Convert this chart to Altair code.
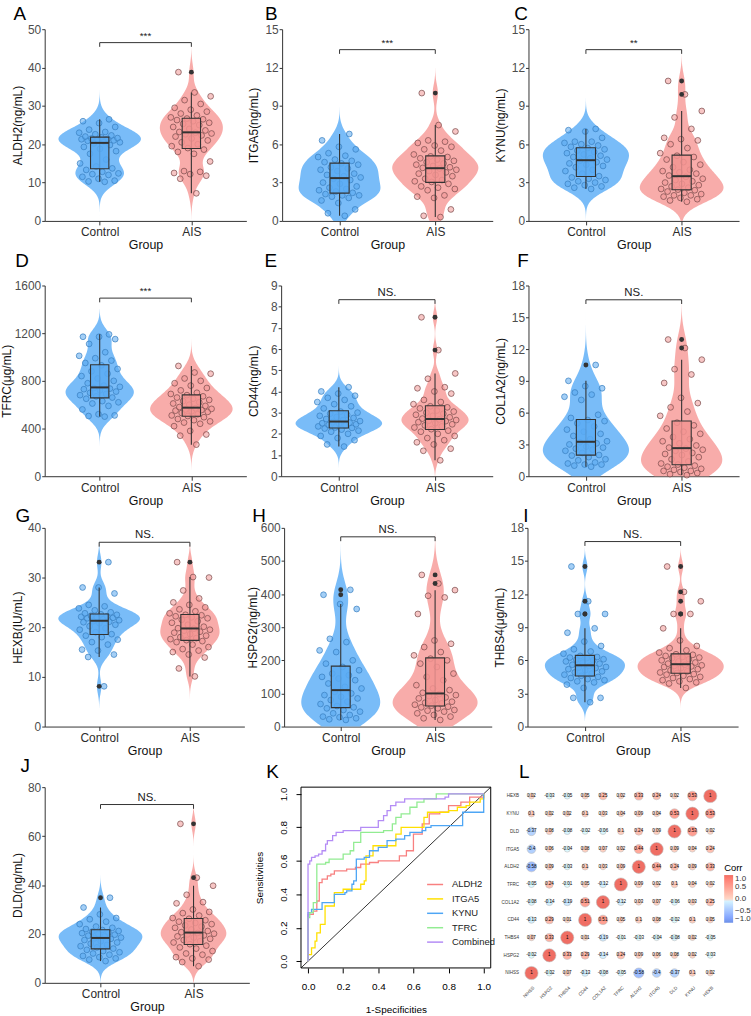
import altair as alt
import numpy as np
import pandas as pd

FONT = "Liberation Sans"
GROUPS = ["Control", "AIS"]

# ---------------- violin/box panels: values ----------------
ALDH2_CTRL = [10.2, 10.3, 10.5, 11.0, 11.5, 12.0, 12.2, 12.4, 12.8, 13.3, 13.7, 14.2, 15.0, 16.0, 17.5, 18.2, 18.8, 19.3, 19.8, 20.2,
              20.5, 20.7, 20.9, 21.0, 21.2, 21.3, 21.4, 21.5, 21.6, 21.8, 22.0, 22.3, 22.6, 23.0, 23.2, 23.8, 24.5, 25.5, 26.0, 26.5]
ALDH2_AIS = [7.2, 11.0, 11.8, 12.2, 12.5, 12.8, 13.0, 15.5, 17.5, 18.0, 18.6, 19.0, 19.5, 20.0, 20.5, 21.0, 21.5, 22.0, 22.3, 22.6, 22.8, 23.0,
             23.2, 23.6, 24.0, 24.5, 25.0, 25.3, 25.6, 26.0, 26.3, 26.5, 26.7, 27.0, 27.5, 28.0, 28.5, 29.0, 29.5, 30.5, 31.5, 32.5, 33.5, 38.8]
ITGA5_CTRL = [0.4, 0.6, 0.9, 1.4, 1.6, 1.8, 1.9, 2.0, 2.0, 2.1, 2.2, 2.3, 2.4, 2.5, 2.6, 2.7, 2.9, 3.0, 3.2, 3.3,
              3.4, 3.5, 3.6, 3.7, 3.9, 4.0, 4.1, 4.2, 4.4, 4.5, 4.6, 4.7, 4.8, 5.0, 5.1, 5.3, 5.6, 5.8, 6.3, 6.8]
ITGA5_AIS = [0.3, 0.4, 0.9, 1.8, 1.9, 2.0, 2.4, 2.5, 2.6, 2.7, 2.9, 3.05, 3.1, 3.2, 3.3, 3.5, 3.6, 3.7, 3.8, 3.9, 4.0, 4.1,
             4.15, 4.2, 4.3, 4.4, 4.5, 4.6, 4.7, 4.8, 4.9, 5.0, 5.05, 5.2, 5.5, 5.6, 5.8, 5.9, 6.1, 6.2, 6.3, 7.0, 7.5, 10.0]
KYNU_CTRL = [2.5, 2.6, 2.7, 2.8, 2.9, 3.0, 3.1, 3.2, 3.3, 3.4, 3.5, 3.7, 3.9, 4.0, 4.2, 4.3, 4.4, 4.5, 4.6, 4.7,
             4.8, 4.9, 5.0, 5.1, 5.2, 5.3, 5.4, 5.5, 5.6, 5.7, 5.8, 5.9, 6.0, 6.1, 6.2, 6.2, 6.5, 7.0, 7.1, 7.2]
KYNU_AIS = [1.5, 1.6, 1.7, 1.8, 1.9, 2.0, 2.0, 2.1, 2.2, 2.3, 2.4, 2.45, 2.5, 2.6, 2.7, 2.8, 2.9, 3.0, 3.1, 3.2, 3.3, 3.45,
            3.55, 3.7, 3.8, 3.9, 4.0, 4.2, 4.4, 4.6, 4.8, 5.0, 5.1, 5.3, 5.7, 6.0, 6.3, 6.4, 6.5, 7.2, 8.1, 8.6, 9.9, 10.95]
TFRC_CTRL = [500, 505, 510, 520, 560, 590, 610, 620, 630, 650, 660, 670, 680, 690, 700, 710, 720, 730, 735, 740,
             750, 760, 780, 800, 820, 840, 860, 880, 900, 930, 950, 970, 990, 1010, 1040, 1110, 1150, 1170, 1170, 1190]
TFRC_AIS = [265, 340, 350, 380, 420, 440, 450, 460, 470, 480, 495, 505, 510, 520, 530, 540, 545, 550, 555, 560, 565, 570,
            580, 590, 600, 610, 620, 630, 640, 650, 660, 670, 680, 690, 700, 720, 740, 760, 780, 800, 820, 860, 870, 925]
CD44_CTRL = [1.4, 1.5, 1.7, 1.8, 1.9, 2.0, 2.1, 2.15, 2.2, 2.25, 2.28, 2.3, 2.35, 2.4, 2.42, 2.45, 2.48, 2.5, 2.53, 2.56,
             2.6, 2.65, 2.7, 2.75, 2.8, 2.85, 2.9, 2.95, 3.0, 3.05, 3.2, 3.3, 3.4, 3.5, 3.6, 3.7, 3.8, 3.9, 4.0, 4.2]
CD44_AIS = [0.75, 1.2, 1.3, 1.5, 1.6, 1.7, 1.8, 1.9, 2.0, 2.1, 2.15, 2.22, 2.3, 2.35, 2.4, 2.45, 2.5, 2.55, 2.6, 2.62, 2.65, 2.68,
            2.72, 2.78, 2.85, 2.9, 2.95, 3.0, 3.05, 3.1, 3.2, 3.25, 3.3, 3.4, 3.5, 3.6, 3.9, 4.0, 4.15, 4.2, 4.6, 4.85, 5.95, 7.5]
COL1A2_CTRL = [0.9, 1.0, 1.1, 1.1, 1.2, 1.3, 1.5, 1.6, 1.8, 1.95, 2.0, 2.2, 2.4, 2.5, 2.6, 2.7, 2.8, 3.0, 3.1, 3.2,
               3.3, 3.5, 3.8, 4.0, 4.2, 4.4, 4.7, 5.0, 5.2, 5.3, 5.5, 5.8, 7.2, 7.5, 7.7, 7.9, 8.3, 8.5, 9.0, 10.5]
COL1A2_AIS = [0.1, 0.2, 0.3, 0.4, 0.5, 0.5, 0.6, 0.7, 0.8, 0.9, 1.0, 1.1, 1.2, 1.4, 1.6, 1.8, 2.0, 2.1, 2.2, 2.4, 2.5, 2.6,
              2.7, 2.9, 3.1, 3.3, 3.5, 3.7, 4.0, 4.2, 4.5, 4.8, 5.05, 5.7, 6.1, 6.5, 6.9, 7.4, 8.8, 9.6, 10.1, 11.0, 12.1, 12.9]
HEXB_CTRL = [8.1, 14.0, 14.5, 15.3, 15.5, 16.5, 17.0, 17.5, 18.0, 18.3, 18.6, 19.0, 19.5, 19.8, 20.2, 20.5, 20.8, 21.0, 21.1, 21.2,
             21.4, 21.6, 21.8, 21.9, 22.0, 22.1, 22.2, 22.3, 22.5, 22.6, 22.8, 23.0, 23.4, 23.8, 24.2, 24.5, 26.8, 28.0, 28.0, 33.1]
HEXB_AIS = [10.1, 11.7, 13.9, 14.5, 15.0, 15.3, 15.6, 16.0, 16.5, 17.0, 17.2, 17.4, 17.6, 17.8, 18.0, 18.3, 18.6, 18.9, 19.1, 19.3, 19.5, 19.7,
            19.8, 20.1, 20.5, 20.9, 21.2, 21.5, 21.8, 22.0, 22.2, 22.4, 22.5, 22.8, 23.2, 23.6, 24.0, 24.5, 25.0, 25.8, 27.4, 30.0, 30.1, 33.1]
HSPG2_CTRL = [20, 22, 25, 28, 30, 35, 40, 45, 50, 55, 58, 62, 68, 75, 80, 85, 90, 95, 100, 105,
              115, 120, 130, 140, 145, 150, 155, 160, 170, 180, 190, 200, 225, 230, 255, 265, 355, 370, 398, 413]
HSPG2_AIS = [20, 25, 30, 35, 40, 45, 48, 50, 55, 58, 60, 63, 66, 70, 72, 75, 80, 85, 88, 92, 95, 98,
             102, 110, 115, 125, 140, 150, 160, 180, 190, 200, 205, 215, 225, 240, 250, 260, 340, 390, 395, 412, 432, 458]
THBS4_CTRL = [2.2, 2.6, 2.6, 3.5, 3.8, 4.0, 4.1, 4.2, 4.3, 4.4, 4.5, 4.6, 4.7, 4.8, 4.9, 5.0, 5.1, 5.2, 5.3, 5.35, 5.4, 5.5,
              5.6, 5.7, 5.8, 5.9, 6.0, 6.05, 6.1, 6.2, 6.25, 6.3, 6.4, 6.6, 6.8, 7.0, 7.3, 7.7, 8.5, 8.9, 10.2, 10.2, 11.35, 14.5]
THBS4_AIS = [3.5, 3.9, 4.0, 4.1, 4.2, 4.3, 4.4, 4.5, 4.6, 4.7, 4.75, 4.85, 4.9, 5.0, 5.1, 5.2, 5.3, 5.4, 5.45, 5.5, 5.55, 5.6,
             5.7, 5.8, 5.9, 6.0, 6.1, 6.2, 6.25, 6.3, 6.4, 6.5, 6.55, 6.7, 6.9, 7.1, 7.3, 7.8, 8.9, 10.2, 10.2, 11.35, 12.2, 14.5]
DLD_CTRL = [8.9, 9.5, 10.0, 10.5, 11.0, 11.5, 12.0, 12.5, 13.0, 13.5, 14.0, 14.5, 15.0, 15.5, 16.0, 16.5, 17.0, 17.5, 18.0, 18.2,
            18.5, 19.0, 19.3, 19.7, 20.0, 20.3, 20.6, 20.9, 21.2, 21.6, 22.0, 22.5, 23.0, 24.0, 25.0, 26.0, 26.5, 28.0, 30.8, 34.8]
DLD_AIS = [6.8, 8.5, 9.5, 10.0, 10.5, 11.5, 12.0, 13.0, 14.0, 14.5, 15.2, 15.8, 16.5, 17.0, 17.5, 18.0, 18.5, 19.0, 19.4, 19.8, 20.1, 20.4,
           20.7, 21.2, 21.8, 22.5, 23.0, 23.5, 24.0, 24.5, 25.0, 25.6, 26.2, 26.5, 27.5, 28.5, 29.0, 30.0, 32.5, 33.0, 36.0, 39.7, 43.0, 65.0]

# tag, y title, control, AIS, y max, tick step, significance label, bracket height
PANELS = [
    ("A", "ALDH2(ng/mL)", ALDH2_CTRL, ALDH2_AIS, 50, 10, "***", 46.5),
    ("B", "ITGA5(ng/mL)", ITGA5_CTRL, ITGA5_AIS, 15, 3, "***", 13.4),
    ("C", "KYNU(ng/mL)", KYNU_CTRL, KYNU_AIS, 15, 3, "**", 13.4),
    ("D", "TFRC(μg/mL)", TFRC_CTRL, TFRC_AIS, 1600, 400, "***", 1494),
    ("E", "CD44(ng/mL)", CD44_CTRL, CD44_AIS, 9, 1, "NS.", 8.33),
    ("F", "COL1A2(ng/mL)", COL1A2_CTRL, COL1A2_AIS, 18, 3, "NS.", 16.65),
    ("G", "HEXB(IU/mL)", HEXB_CTRL, HEXB_AIS, 40, 10, "NS.", 37.1),
    ("H", "HSPG2(ng/mL)", HSPG2_CTRL, HSPG2_AIS, 600, 100, "NS.", 573),
    ("I", "THBS4(μg/mL)", THBS4_CTRL, THBS4_AIS, 18, 3, "NS.", 16.76),
    ("J", "DLD(ng/mL)", DLD_CTRL, DLD_AIS, 80, 20, "NS.", 72.9),
]

# layout: plot width/height, title offset, title dx, y-title padding
LAYOUT = {
    "A": dict(w=203, h=193, off=-1, dx=2, tpad=3),
    "B": dict(w=212, h=193, off=-1, dx=17, tpad=4),
    "C": dict(w=212, h=193, off=-1, dx=20, tpad=4),
    "D": dict(w=203, h=192, off=9, dx=15, tpad=1),
    "E": dict(w=213, h=192, off=9, dx=17, tpad=10),
    "F": dict(w=212, h=192, off=9, dx=23, tpad=4),
    "G": dict(w=201, h=200, off=-4, dx=4, tpad=3),
    "H": dict(w=209, h=200, off=-4, dx=6, tpad=1),
    "I": dict(w=212, h=200, off=-4, dx=30, tpad=4),
    "J": dict(w=206, h=197, off=5, dx=9, tpad=3),
}
ROW4_OFF = 5

VIOLIN_COL = {"Control": "#6AB5F7", "AIS": "#F7A3A1"}
BOX_COL = {"Control": "#5AACF4", "AIS": "#F39492"}
PT_FILL = {"Control": "#5AA8EE", "AIS": "#F09896"}
PT_STROKE = {"Control": "#3A7FC0", "AIS": "#7A4C4C"}

# ---------------- ROC (panel K) ----------------
ROC_NAMES = ["ALDH2", "ITGA5", "KYNU", "TFRC", "Combined"]
ROC_COLORS = ["#F88080", "#FFE000", "#4EA6F5", "#92EC92", "#B48CF5"]
ALDH2_FPR = [0, 0, 0.03, 0.05, 0.064, 0.08, 0.11, 0.13, 0.15, 0.22, 0.27, 0.3, 0.35, 0.4, 0.52, 0.56, 0.6, 0.6, 0.65, 0.69, 0.75, 0.8, 0.87, 0.92, 1.0]
ALDH2_TPR = [0, 0.28, 0.30, 0.36, 0.47, 0.49, 0.51, 0.52, 0.54, 0.55, 0.56, 0.58, 0.59, 0.60, 0.63, 0.66, 0.70, 0.76, 0.82, 0.88, 0.89, 0.93, 0.95, 0.98, 1.0]
ITGA5_FPR = [0, 0, 0.02, 0.04, 0.05, 0.07, 0.097, 0.15, 0.2, 0.3, 0.32, 0.33, 0.37, 0.5, 0.53, 0.66, 0.68, 0.8, 0.85, 0.9, 0.92, 0.98, 1.0]
ITGA5_TPR = [0, 0.04, 0.08, 0.12, 0.17, 0.22, 0.33, 0.41, 0.43, 0.46, 0.48, 0.63, 0.69, 0.76, 0.80, 0.86, 0.89, 0.90, 0.92, 0.93, 0.95, 0.97, 1.0]
KYNU_FPR = [0, 0, 0.02, 0.08, 0.15, 0.21, 0.22, 0.25, 0.26, 0.275, 0.32, 0.35, 0.4, 0.45, 0.5, 0.55, 0.58, 0.65, 0.67, 0.7, 0.88, 1.0, 1.0]
KYNU_TPR = [0, 0.29, 0.31, 0.35, 0.40, 0.41, 0.42, 0.46, 0.48, 0.61, 0.62, 0.66, 0.68, 0.72, 0.73, 0.75, 0.77, 0.78, 0.80, 0.81, 0.89, 0.89, 1.0]
TFRC_FPR = [0, 0, 0.01, 0.03, 0.05, 0.1, 0.12, 0.2, 0.24, 0.26, 0.3, 0.43, 0.48, 0.5, 0.53, 0.58, 0.62, 0.66, 0.73, 1.0]
TFRC_TPR = [0, 0.26, 0.29, 0.35, 0.58, 0.59, 0.61, 0.64, 0.66, 0.71, 0.77, 0.78, 0.82, 0.86, 0.88, 0.92, 0.95, 0.97, 1.0, 1.0]
COMB_FPR = [0, 0, 0.01, 0.02, 0.04, 0.06, 0.08, 0.1, 0.11, 0.14, 0.16, 0.2, 0.3, 0.4, 0.4, 0.43, 0.45, 0.47, 0.5, 0.55, 0.78, 0.8, 1.0]
COMB_TPR = [0, 0.58, 0.60, 0.62, 0.63, 0.64, 0.66, 0.70, 0.72, 0.75, 0.77, 0.78, 0.80, 0.81, 0.84, 0.87, 0.90, 0.93, 0.95, 0.97, 0.98, 1.0, 1.0]
ROC_FPR = [ALDH2_FPR, ITGA5_FPR, KYNU_FPR, TFRC_FPR, COMB_FPR]
ROC_TPR = [ALDH2_TPR, ITGA5_TPR, KYNU_TPR, TFRC_TPR, COMB_TPR]

# ---------------- correlation (panel L) ----------------
CORR_VARS = ["NIHSS", "HSPG2", "THBS4", "CD44", "COL1A2", "TFRC", "ALDH2", "ITGA5", "DLD", "KYNU", "HEXB"]
CORR = [
    [1, -0.02, 0.07, -0.13, -0.08, -0.05, -0.58, -0.4, -0.37, 0.1, 0.02],
    [-0.02, 1, 0.33, 0.29, -0.14, 0.24, 0.09, 0.06, 0.08, 0.02, -0.03],
    [0.07, 0.33, 1, 0.01, -0.19, -0.01, -0.03, -0.04, -0.08, 0.02, -0.05],
    [-0.13, 0.29, 0.01, 1, 0.51, 0.05, 0.1, 0.08, -0.02, 0.1, 0.05],
    [-0.08, -0.14, -0.19, 0.51, 1, -0.12, 0.03, 0.07, -0.06, 0.03, 0.25],
    [-0.05, 0.24, -0.01, 0.05, -0.12, 1, 0.09, 0.02, 0.1, 0.04, 0.02],
    [-0.58, 0.09, -0.03, 0.1, 0.03, 0.09, 1, 0.44, 0.24, 0.09, 0.33],
    [-0.4, 0.06, -0.04, 0.08, 0.07, 0.02, 0.44, 1, 0.09, 0.04, 0.24],
    [-0.37, 0.08, -0.08, -0.02, -0.06, 0.1, 0.24, 0.09, 1, 0.53, 0.02],
    [0.1, 0.02, 0.02, 0.1, 0.03, 0.04, 0.09, 0.04, 0.53, 1, 0.53],
    [0.02, -0.03, -0.05, 0.05, 0.25, 0.02, 0.33, 0.24, 0.02, 0.53, 1],
]


def gcond(cmap):
    return alt.condition("datum.g == 'Control'", alt.value(cmap["Control"]), alt.value(cmap["AIS"]))


def nrd0(a):
    a = np.asarray(a, dtype=float)
    sd = a.std(ddof=1)
    q75, q25 = np.percentile(a, [75, 25])
    return 0.9 * min(sd, (q75 - q25) / 1.34) * len(a) ** -0.2


def title(tag, off, dx):
    return alt.TitleParams(text=tag, anchor="start", frame="bounds", fontSize=19, fontWeight="normal",
                           font=FONT, color="black", offset=off, dx=dx)


def violin_panel(tag, ytitle, ctrl, ais, ymax, step, sig, bry):
    lay = LAYOUT[tag]
    df = pd.DataFrame({"g": ["Control"] * len(ctrl) + ["AIS"] * len(ais), "v": list(ctrl) + list(ais)})
    bw = (nrd0(ctrl) + nrd0(ais)) / 2
    allv = np.array(list(ctrl) + list(ais), dtype=float)
    lo = max(0.0, float(allv.min() - 3 * bw))
    hi = min(float(ymax), float(allv.max() + 3 * bw))

    xs = alt.Scale(domain=[0.4, 2.6], nice=False, zero=False)
    ys = alt.Scale(domain=[0, ymax], nice=False, zero=False)
    xa = alt.Axis(values=[1, 2], labelExpr="datum.value == 1 ? 'Control' : 'AIS'", title="Group", grid=False,
                  domainColor="#333333", tickColor="#333333", tickSize=4, labelColor="#2b2b2b", labelFontSize=12,
                  labelFont=FONT, titleFont=FONT, titleFontSize=12.5, titleFontWeight="normal", titleColor="#111111",
                  labelPadding=2, titlePadding=1, labelFlush=False)
    ya = alt.Axis(values=list(range(0, ymax + step, step)), format="d", title=ytitle, grid=False,
                  domainColor="#333333", tickColor="#333333", tickSize=3, labelColor="#4D4D4D", labelFontSize=12,
                  labelFont=FONT, titleFont=FONT, titleFontSize=12, titleFontWeight="normal", titleColor="#111111",
                  labelPadding=1, titlePadding=lay["tpad"], labelOverlap=False)

    def X(f):
        return alt.X(f, type="quantitative", scale=xs, axis=xa)

    def Y(f):
        return alt.Y(f, type="quantitative", scale=ys, axis=ya)

    gi = "datum.g == 'Control' ? 1 : 2"
    base = alt.Chart(df)

    violin = (base.transform_density("v", groupby=["g"], as_=["v", "density"], extent=[lo, hi], bandwidth=bw, steps=200)
              .transform_joinaggregate(maxd="max(density)")
              .transform_calculate(gi=gi)
              .transform_calculate(left="datum.gi - datum.density / datum.maxd * 0.45",
                                   right="datum.gi + datum.density / datum.maxd * 0.45")
              .mark_area(orient="horizontal", opacity=0.9)
              .encode(y=Y("v"), x=X("left"), x2="right", fill=gcond(VIOLIN_COL), detail="g:N"))

    points = (base.transform_window(rn="row_number()", groupby=["g"])
              .transform_calculate(gi=gi)
              .transform_calculate(jx="datum.gi + ((datum.rn * 0.6180339887) % 1 - 0.5) * 0.46")
              .mark_point(shape="circle", filled=True, size=34, fillOpacity=0.55, strokeWidth=0.8, strokeOpacity=0.9)
              .encode(x=X("jx"), y=Y("v"), fill=gcond(PT_FILL), stroke=gcond(PT_STROKE)))

    stats = (base.transform_joinaggregate(q1="q1(v)", q3="q3(v)", med="median(v)", groupby=["g"])
             .transform_calculate(lof="datum.q1 - 1.5 * (datum.q3 - datum.q1)",
                                  hif="datum.q3 + 1.5 * (datum.q3 - datum.q1)"))
    inner = (stats.transform_filter("datum.v >= datum.lof && datum.v <= datum.hif")
             .transform_aggregate(lo="min(v)", hi="max(v)", q1="min(q1)", q3="min(q3)", med="min(med)", groupby=["g"])
             .transform_calculate(gi=gi)
             .transform_calculate(bl="datum.gi - 0.1", br="datum.gi + 0.1"))
    whisk = inner.mark_rule(color="#333333", strokeWidth=1.1).encode(x=X("gi"), y=Y("lo"), y2="hi")
    box = inner.mark_rect(stroke="#333333", strokeWidth=1.1, fillOpacity=0.85).encode(
        x=X("bl"), x2="br", y=Y("q1"), y2="q3", fill=gcond(BOX_COL))
    med = inner.mark_rule(color="#333333", strokeWidth=2).encode(x=X("bl"), x2="br", y=Y("med"))
    outl = (stats.transform_filter("datum.v < datum.lof || datum.v > datum.hif")
            .transform_calculate(gi=gi)
            .mark_circle(size=24, color="#333333", opacity=1)
            .encode(x=X("gi"), y=Y("v")))

    tick = ymax * 0.022
    bk = pd.DataFrame({"x1": [1], "x2": [2], "xm": [1.5], "y": [bry], "yt": [bry - tick], "lab": [sig]})
    bkc = alt.Chart(bk)
    br_h = bkc.mark_rule(color="#333333", strokeWidth=1).encode(x=X("x1"), x2="x2", y=Y("y"))
    br_l = bkc.mark_rule(color="#333333", strokeWidth=1).encode(x=X("x1"), y=Y("y"), y2="yt")
    br_r = bkc.mark_rule(color="#333333", strokeWidth=1).encode(x=X("x2"), y=Y("y"), y2="yt")
    br_t = bkc.mark_text(baseline="bottom", dy=-2, fontSize=11.5 if sig == "NS." else 10, font=FONT,
                         color="#222222").encode(x=X("xm"), y=Y("y"), text="lab:N")

    return alt.layer(violin, points, whisk, box, med, outl, br_h, br_l, br_r, br_t).properties(
        width=lay["w"], height=lay["h"], title=title(tag, lay["off"], lay["dx"]))


def roc_panel():
    rows = []
    for name, fx, ty in zip(ROC_NAMES, ROC_FPR, ROC_TPR):
        for i, (a, b) in enumerate(zip(fx, ty)):
            rows.append({"name": name, "i": i, "fpr": a, "tpr": b})
    df = pd.DataFrame(rows)
    W, H = 191, 182
    sc = alt.Scale(domain=[-0.04, 1.04], nice=False, zero=False)
    ticks = [0, 0.2, 0.4, 0.6, 0.8, 1.0]
    xa = alt.Axis(values=ticks, format=".1f", domain=False, grid=False, tickSize=5, tickColor="black",
                  labelColor="black", labelFontSize=10, labelFont=FONT, labelPadding=9, labelFlush=False,
                  title="1-Specificities", titleFont=FONT, titleFontSize=10, titleFontWeight="normal",
                  titlePadding=13)
    ya = alt.Axis(values=ticks, format=".1f", domain=False, grid=False, tickSize=5, tickColor="black",
                  labelColor="black", labelFontSize=10, labelFont=FONT, labelPadding=8, labelFlush=False,
                  labelAngle=270, labelAlign="center", labelBaseline="bottom",
                  title="Sensitivities", titleFont=FONT, titleFontSize=10, titleFontWeight="normal",
                  titlePadding=14)
    frame = alt.Chart(pd.DataFrame({"z": [0]})).mark_rect(fillOpacity=0, stroke="black", strokeWidth=1).encode(
        x=alt.value(0), x2=alt.value(W), y=alt.value(0), y2=alt.value(H))
    diag = alt.Chart(pd.DataFrame({"a": [-0.04], "b": [1.04]})).mark_rule(color="black", strokeWidth=0.8).encode(
        x=alt.X("a:Q", scale=sc, axis=xa), y=alt.Y("a:Q", scale=sc, axis=ya), x2="b", y2="b")
    lines = alt.Chart(df).mark_line(interpolate="step-after", strokeWidth=1.3).encode(
        x=alt.X("fpr:Q", scale=sc, axis=xa), y=alt.Y("tpr:Q", scale=sc, axis=ya),
        stroke=alt.Stroke("name:N", scale=alt.Scale(domain=ROC_NAMES, range=ROC_COLORS),
                          legend=alt.Legend(orient="none", legendX=126, legendY=89, title=None, symbolType="stroke",
                                            symbolSize=260, symbolStrokeWidth=1.5, labelFontSize=9.5, labelFont=FONT,
                                            labelColor="#222222", rowPadding=0.5, labelOffset=8)),
        order="i:Q")
    return alt.layer(frame, diag, lines).properties(width=W, height=H, title=title("K", ROW4_OFF, 12))


def corr_panel():
    rows = []
    for i, rn in enumerate(CORR_VARS):
        for j, cn in enumerate(CORR_VARS):
            v = CORR[i][j]
            rows.append({"row": rn, "col": cn, "r": v, "lab": f"{v:g}"})
    df = pd.DataFrame(rows)
    xa = alt.Axis(labelAngle=315, labelAlign="right", labelBaseline="top", labelFontSize=4.6, labelFont=FONT,
                  labelColor="#333333", ticks=False, domain=False, title=None, labelPadding=3, grid=False)
    ya = alt.Axis(labelFontSize=4.6, labelFont=FONT, labelColor="#333333", ticks=False, domain=False, title=None,
                  labelPadding=4, grid=False)
    X = alt.X("col:N", scale=alt.Scale(domain=CORR_VARS), axis=xa)
    Y = alt.Y("row:N", scale=alt.Scale(domain=CORR_VARS[::-1]), axis=ya)
    base = alt.Chart(df).transform_calculate(sz="PI / 4 * pow(6.5 + 8.5 * abs(datum.r), 2)")
    circles = base.mark_point(shape="circle", filled=True, stroke="#BEBEBE", strokeWidth=0.6, opacity=1).encode(
        x=X, y=Y, size=alt.Size("sz:Q", scale=None),
        fill=alt.Fill("r:Q", scale=alt.Scale(domain=[-1, 0, 1], range=["#6C8FE6", "#FFFFFF", "#EF6E64"]),
                      legend=alt.Legend(title="Corr", orient="none", legendX=203, legendY=76, gradientLength=48,
                                        gradientThickness=9, values=[-1, -0.5, 0, 0.5, 1], format=".1f",
                                        titleFontSize=9.5, titleFontWeight="normal", titleFont=FONT, labelFont=FONT,
                                        labelFontSize=8, labelColor="#333333", titlePadding=3,
                                        direction="vertical")))
    text = base.mark_text(fontSize=4.6, font=FONT, color="black").encode(x=X, y=Y, text="lab:N")
    return alt.layer(circles, text).properties(width=198, height=196, title=title("L", ROW4_OFF, 18))


panels = {p[0]: violin_panel(*p) for p in PANELS}

row1 = alt.hconcat(panels["A"], panels["B"], panels["C"], spacing=1)
row2 = alt.hconcat(panels["D"], panels["E"], panels["F"], spacing=1)
row3 = alt.hconcat(panels["G"], panels["H"], panels["I"], spacing=1)
row4 = alt.hconcat(panels["J"], roc_panel(), corr_panel(), spacing=5).resolve_scale(
    fill="independent", stroke="independent")

chart = (alt.vconcat(row1, row2, row3, row4, spacing=0)
         .resolve_scale(fill="independent", stroke="independent")
         .properties(padding={"left": 0, "top": 2, "right": 0, "bottom": 0})
         .configure_view(stroke=None)
         .configure_text(font=FONT))

chart.save("out.html", embed_options={"renderer": "svg", "actions": False})
